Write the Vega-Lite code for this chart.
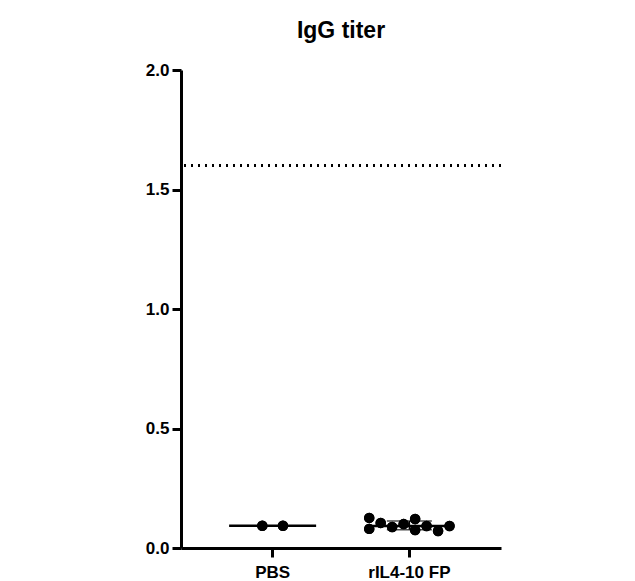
{
  "$schema": "https://vega.github.io/schema/vega-lite/v6.json",
  "autosize": "none",
  "width": 320,
  "height": 478,
  "padding": {"left": 181, "top": 70, "right": 134, "bottom": 33},
  "background": "white",
  "title": {"text": "IgG titer", "font": "Liberation Sans", "fontSize": 23, "fontWeight": "bold", "color": "black", "anchor": "middle", "offset": 18},
  "data": {"values": [
    {"group": "PBS", "col": -0.9, "titer": 0.093},
    {"group": "PBS", "col": 0.9, "titer": 0.093},
    {"group": "rIL4-10 FP", "col": -3.5, "titer": 0.126},
    {"group": "rIL4-10 FP", "col": -3.5, "titer": 0.080},
    {"group": "rIL4-10 FP", "col": -2.5, "titer": 0.105},
    {"group": "rIL4-10 FP", "col": -1.5, "titer": 0.088},
    {"group": "rIL4-10 FP", "col": -0.5, "titer": 0.100},
    {"group": "rIL4-10 FP", "col": 0.5, "titer": 0.121},
    {"group": "rIL4-10 FP", "col": 0.5, "titer": 0.075},
    {"group": "rIL4-10 FP", "col": 1.5, "titer": 0.092},
    {"group": "rIL4-10 FP", "col": 2.5, "titer": 0.071},
    {"group": "rIL4-10 FP", "col": 3.5, "titer": 0.092}
  ]},
  "layer": [
    {
      "mark": {"type": "point", "filled": true, "shape": "circle", "size": 110, "color": "black", "opacity": 1},
      "encoding": {
        "x": {"field": "group", "type": "nominal", "scale": {"type": "band", "paddingInner": 0, "paddingOuter": 0.17}, "axis": {"title": null}},
        "xOffset": {"field": "col", "type": "quantitative", "scale": {"domain": [-5.96, 5.96]}},
        "y": {"field": "titer", "type": "quantitative", "scale": {"domain": [0, 2], "nice": false}, "axis": {"title": null, "values": [0, 0.5, 1, 1.5, 2], "format": ".1f"}}
      }
    },
    {
      "mark": {"type": "rule", "strokeDash": [2, 5], "strokeWidth": 2, "color": "black"},
      "encoding": {"y": {"datum": 1.6, "type": "quantitative"}}
    },
    {
      "mark": {"type": "errorbar", "extent": "stdev", "ticks": {"size": 45, "thickness": 1.5, "color": "black"}, "rule": {"strokeWidth": 1.5, "color": "black"}},
      "encoding": {
        "x": {"field": "group", "type": "nominal"},
        "y": {"field": "titer", "type": "quantitative"}
      }
    },
    {
      "mark": {"type": "tick", "size": 87, "thickness": 2.5, "color": "black", "opacity": 1},
      "encoding": {
        "x": {"field": "group", "type": "nominal"},
        "y": {"aggregate": "median", "field": "titer", "type": "quantitative"}
      }
    },
    {
      "mark": {"type": "point", "filled": true, "shape": "circle", "size": 110, "color": "black", "opacity": 1},
      "encoding": {
        "x": {"field": "group", "type": "nominal"},
        "xOffset": {"field": "col", "type": "quantitative", "scale": {"domain": [-5.96, 5.96]}},
        "y": {"field": "titer", "type": "quantitative"}
      }
    }
  ],
  "config": {
    "view": {"stroke": null},
    "axis": {
      "domainColor": "black", "domainWidth": 3, "tickColor": "black", "tickWidth": 3, "tickSize": 9,
      "labelFont": "Liberation Sans", "labelFontWeight": "bold", "labelFontSize": 17, "labelColor": "black",
      "grid": false, "title": null
    },
    "axisX": {"labelAngle": 0, "labelPadding": 7},
    "axisY": {"labelPadding": 3}
  }
}
